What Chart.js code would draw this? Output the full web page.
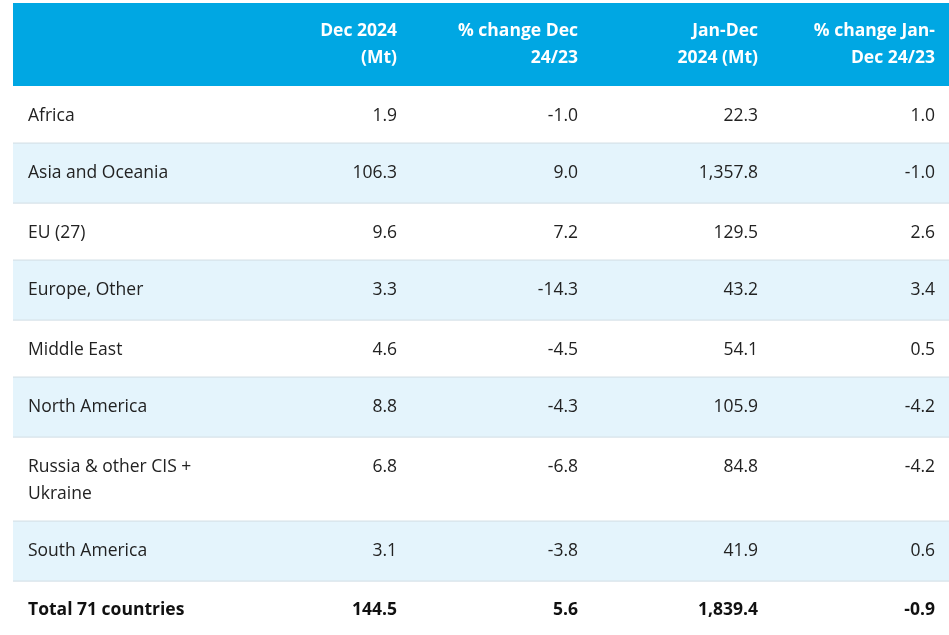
<!DOCTYPE html>
<html>
<head>
<meta charset="utf-8">
<script src="https://cdn.jsdelivr.net/npm/chart.js@4/dist/chart.umd.min.js"></script>
<style>
html,body{margin:0;padding:0;background:#fff;}
#wrap{width:949px;height:635px;position:relative;}
</style>
</head>
<body>
<div id="wrap"><canvas id="c" width="949" height="635"></canvas></div>
<script>
// ---- data ----
const headers = [['Dec 2024', '(Mt)'], ['% change Dec', '24/23'], ['Jan-Dec', '2024 (Mt)'], ['% change Jan-', 'Dec 24/23']];
const regions = [['Africa'], ['Asia and Oceania'], ['EU (27)'], ['Europe, Other'], ['Middle East'], ['North America'], ['Russia & other CIS +', 'Ukraine'], ['South America'], ['Total 71 countries']];
const decMt = ['1.9', '106.3', '9.6', '3.3', '4.6', '8.8', '6.8', '3.1', '144.5'];
const decChange = ['-1.0', '9.0', '7.2', '-14.3', '-4.5', '-4.3', '-6.8', '-3.8', '5.6'];
const janDecMt = ['22.3', '1,357.8', '129.5', '43.2', '54.1', '105.9', '84.8', '41.9', '1,839.4'];
const janDecChange = ['1.0', '-1.0', '2.6', '3.4', '0.5', '-4.2', '-4.2', '0.6', '-0.9'];

// ---- layout (scale units) ----
const tableLeft = 13, tableRight = 949, headTop = 3, headBottom = 86;
const rowEdges = [86, 143, 203, 260, 320, 377, 437, 521, 581, 640];
const colRight = [397, 578, 758, 935];
const labelX = 28;
const lineGap = 27;
const fontSize = 17.5;

const tablePlugin = {
  id: 'tablePlugin',
  beforeDatasetsDraw(chart) {
    const ctx = chart.ctx, xs = chart.scales.x, ys = chart.scales.y;
    const X = v => xs.getPixelForValue(v), Y = v => ys.getPixelForValue(v);
    ctx.save();
    // header band
    ctx.fillStyle = '#00a7e3';
    ctx.fillRect(X(tableLeft), Y(headTop), X(tableRight) - X(tableLeft), Y(headBottom) - Y(headTop));
    // row backgrounds
    for (let i = 0; i < regions.length; i++) {
      const y0 = Y(rowEdges[i]), y1 = Y(rowEdges[i + 1]);
      ctx.fillStyle = (i % 2 === 1) ? '#e4f4fc' : '#ffffff';
      ctx.fillRect(X(tableLeft), y0, X(tableRight) - X(tableLeft), y1 - y0);
      if (i > 0) {
        ctx.fillStyle = '#d6e1e8';
        ctx.fillRect(X(tableLeft), y0 - 0.5, X(tableRight) - X(tableLeft), 1.2);
      }
    }
    // header text
    ctx.fillStyle = '#ffffff';
    ctx.font = 'bold ' + fontSize + 'px "Open Sans"';
    ctx.textAlign = 'right';
    ctx.textBaseline = 'middle';
    const hMid = (headTop + headBottom) / 2 + 0.5;
    headers.forEach((h, c) => {
      h.forEach((line, k) => {
        const yy = hMid - (h.length - 1) * lineGap / 2 + k * lineGap;
        ctx.fillText(line, X(colRight[c]), Y(yy));
      });
    });
    // body text
    const cols = [decMt, decChange, janDecMt, janDecChange];
    for (let i = 0; i < regions.length; i++) {
      const isTotal = i === regions.length - 1;
      ctx.font = (isTotal ? 'bold ' : '') + fontSize + 'px "Open Sans"';
      ctx.fillStyle = isTotal ? '#111111' : '#222222';
      const top = rowEdges[i];
      const firstY = isTotal ? top + 29 : top + 30;
      ctx.textAlign = 'left';
      regions[i].forEach((line, k) => ctx.fillText(line, X(labelX), Y(firstY + k * lineGap)));
      ctx.textAlign = 'right';
      cols.forEach((col, c) => ctx.fillText(col[i], X(colRight[c]), Y(firstY)));
    }
    ctx.restore();
  }
};

new Chart(document.getElementById('c'), {
  type: 'scatter',
  data: { datasets: [{ data: [], pointRadius: 0 }] },
  options: {
    responsive: false,
    animation: false,
    layout: { padding: 0 },
    plugins: { legend: { display: false }, tooltip: { enabled: false } },
    scales: {
      x: { type: 'linear', min: 0, max: 949, display: false },
      y: { type: 'linear', min: 0, max: 635, reverse: true, display: false }
    }
  },
  plugins: [tablePlugin]
});
</script>
</body>
</html>
